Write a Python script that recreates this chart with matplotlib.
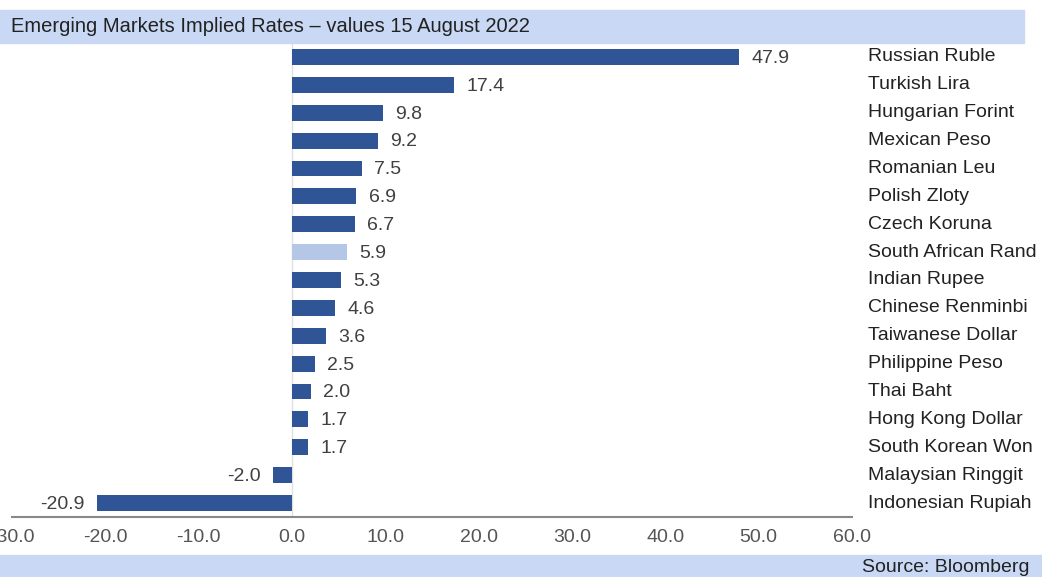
import matplotlib
matplotlib.use('Agg')
import matplotlib.pyplot as plt
from matplotlib.patches import Rectangle

plt.rcParams['font.family'] = ['Liberation Sans', 'DejaVu Sans']

currencies = ['Russian Ruble', 'Turkish Lira', 'Hungarian Forint', 'Mexican Peso',
              'Romanian Leu', 'Polish Zloty', 'Czech Koruna', 'South African Rand',
              'Indian Rupee', 'Chinese Renminbi', 'Taiwanese Dollar', 'Philippine Peso',
              'Thai Baht', 'Hong Kong Dollar', 'South Korean Won', 'Malaysian Ringgit',
              'Indonesian Rupiah']
implied_rates = [47.9, 17.4, 9.8, 9.2, 7.5, 6.9, 6.7, 5.9, 5.3, 4.6, 3.6, 2.5,
                 2.0, 1.7, 1.7, -2.0, -20.9]
highlight = 'South African Rand'
x_ticks = [-30, -20, -10, 0, 10, 20, 30, 40, 50, 60]

dark_blue = '#2f5597'
light_blue = '#b4c7e7'
band_blue = '#c9d8f4'
fs = 14

fig = plt.figure(figsize=(10.42, 5.77), dpi=100)
ax = fig.add_axes([12 / 1042, 1 - 517 / 577, 840 / 1042, 474 / 577])

# header and footer bands
fig.patches.append(Rectangle((0, 1 - 43 / 577), 1024 / 1042, 33 / 577,
                             transform=fig.transFigure, color=band_blue, zorder=0))
fig.patches.append(Rectangle((0, 0), 1, 22 / 577,
                             transform=fig.transFigure, color=band_blue, zorder=0))
fig.text(11 / 1042, 1 - 26 / 577, 'Emerging Markets Implied Rates \u2013 values 15 August 2022',
         fontsize=fs + 0.5, color='#222222', va='center', ha='left')
fig.text(1030 / 1042, 10 / 577, 'Source: Bloomberg', fontsize=fs, color='#222222',
         va='center', ha='right')

ypos = list(range(len(currencies)))
colors = [light_blue if c == highlight else dark_blue for c in currencies]
ax.barh(ypos, implied_rates, height=0.57, color=colors, zorder=2)

for y, v, name in zip(ypos, implied_rates, currencies):
    if v >= 0:
        ax.text(v + 1.3, y + 0.05, f'{v:.1f}', va='center', ha='left', fontsize=fs, color='#404040')
    else:
        ax.text(v - 1.3, y + 0.05, f'{v:.1f}', va='center', ha='right', fontsize=fs, color='#404040')
    ax.text(61.7, y, name, va='center', ha='left', fontsize=fs, color='#222222')

ax.axvline(0, color='#e0e0e0', linewidth=1, zorder=1)
ax.set_xlim(-30, 60)
ax.set_ylim(len(currencies) - 0.5, -0.5)
ax.set_xticks(x_ticks)
ax.set_xticklabels([f'{t:.1f}' for t in x_ticks])
ax.set_yticks([])
ax.tick_params(axis='x', length=0, labelsize=fs, labelcolor='#555555', pad=9)
for side in ['top', 'right', 'left']:
    ax.spines[side].set_visible(False)
ax.spines['bottom'].set_color('#888888')
ax.spines['bottom'].set_linewidth(1.5)
ax.patch.set_alpha(0)

fig.savefig('out.png', dpi=100)
